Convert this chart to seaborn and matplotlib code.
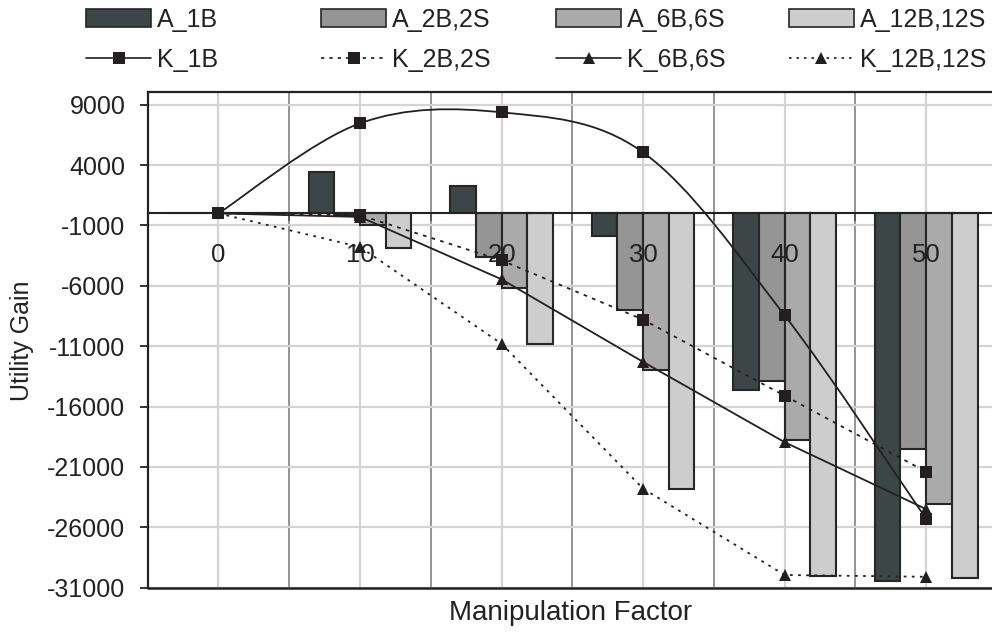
import numpy as np
import pandas as pd
import matplotlib
matplotlib.use("Agg")
import matplotlib.pyplot as plt
import seaborn as sns
from matplotlib.path import Path
from matplotlib.patches import PathPatch, Patch
from matplotlib.lines import Line2D

# ---------------- data ----------------
categories = ["0", "10", "20", "30", "40", "50"]
a_1b = [0, 3400, 2300, -1900, -14600, -30450]
a_2b = [0, -150, -3650, -8000, -13900, -19500]
a_6b = [0, -980, -6150, -12950, -18800, -24100]
a_12b = [0, -2830, -10850, -22800, -30000, -30170]
k_1b = [0, 7460, 8370, 5050, -8450, -25300]
k_2b = [0, -150, -3890, -8800, -15100, -21400]
k_6b = [0, -290, -5460, -12300, -18950, -24500]
k_12b = [0, -2780, -10800, -22800, -29950, -30100]
bar_names = ["A_1B", "A_2B,2S", "A_6B,6S", "A_12B,12S"]
line_names = ["K_1B", "K_2B,2S", "K_6B,6S", "K_12B,12S"]
y_ticks = [9000, 4000, -1000, -6000, -11000, -16000, -21000, -26000, -31000]

bar_colors = ["#3d4646", "#959595", "#aaaaaa", "#cdcdcd"]
line_color = "#231f20"
edge_color = "#262626"
text_color = "#222222"

sns.set_theme(style="white")
plt.rcParams['font.family'] = ['Liberation Sans', 'DejaVu Sans']

fig = plt.figure(figsize=(9.92, 6.41), dpi=100)
ax = fig.add_axes([0.1489, 0.0832, 0.8561, 0.7728])

# ---------------- bars ----------------
bar_df = pd.concat([
    pd.DataFrame({"Factor": categories, "Gain": vals, "Series": name})
    for name, vals in zip(bar_names, [a_1b, a_2b, a_6b, a_12b])
], ignore_index=True)

sns.barplot(data=bar_df, x="Factor", y="Gain", hue="Series", order=categories,
            hue_order=bar_names, palette=bar_colors, width=0.726, gap=0,
            saturation=1, edgecolor=edge_color, linewidth=1.5, errorbar=None,
            legend=False, zorder=2, ax=ax)

xs = np.arange(len(categories))

# ---------------- lines ----------------
# K_1B: smoothed curve (Excel-like bezier smoothing) through the points
pts = np.column_stack([xs, k_1b]).astype(float)
verts = [tuple(pts[0])]
codes = [Path.MOVETO]
n = len(pts)
for i in range(n - 1):
    p_prev = pts[i - 1] if i > 0 else pts[i]
    p_next2 = pts[i + 2] if i + 2 < n else pts[i + 1]
    c1 = pts[i] + (pts[i + 1] - p_prev) / 6.0
    c2 = pts[i + 1] - (p_next2 - pts[i]) / 6.0
    verts += [tuple(c1), tuple(c2), tuple(pts[i + 1])]
    codes += [Path.CURVE4] * 3
ax.add_patch(PathPatch(Path(verts, codes), facecolor="none", edgecolor=line_color,
                       linewidth=1.3, zorder=4))
sns.scatterplot(x=xs, y=k_1b, marker="s", s=80, color=line_color, linewidth=0,
                zorder=5, ax=ax, legend=False)

line_specs = [
    (k_2b, "s", (0, (2.0, 3.0))),
    (k_6b, "^", "-"),
    (k_12b, "^", (0, (1.5, 3.0))),
]
for vals, mk, ls in line_specs:
    sns.lineplot(x=xs, y=vals, ax=ax, color=line_color, linewidth=1.3,
                 linestyle=ls, marker=mk, markersize=9, markeredgewidth=0,
                 markerfacecolor=line_color, zorder=4, legend=False)

# ---------------- axes styling ----------------
ax.set_xlim(-0.5, 5.5)
ax.set_ylim(-31000, 10030)
ax.set_xticks(xs, labels=[""] * len(xs))
ax.set_xticks(xs[:-1] + 0.5, minor=True)
ax.set_yticks(y_ticks, labels=[str(v) for v in y_ticks])
ax.set_xlabel("")
ax.set_ylabel("")
ax.set_axisbelow(True)

# category labels next to the axis line (drawn above the bars)
for xi, lab in zip(xs, categories):
    ax.annotate(lab, xy=(xi, 0), xytext=(0, -30), textcoords="offset points",
                ha="center", va="center", fontsize=18.5, color=text_color,
                zorder=3, annotation_clip=False)

ax.grid(which="major", axis="x", color="#d4d4d4", linewidth=1.6)
ax.grid(which="minor", axis="x", color="#8c8c8c", linewidth=1.3)
ax.grid(which="major", axis="y", color="#d4d4d4", linewidth=1.6)

for s in ["left", "top", "right"]:
    ax.spines[s].set_color("#222222")
    ax.spines[s].set_linewidth(1.6)
ax.spines["bottom"].set_position(("data", 0))
ax.spines["bottom"].set_color("#222222")
ax.spines["bottom"].set_linewidth(1.5)
ax.spines["bottom"].set_zorder(3.5)
ax.axhline(-31000, color="#222222", linewidth=1.8, clip_on=False, zorder=6)

ax.tick_params(axis="x", which="major", length=0)
ax.tick_params(axis="x", which="minor", length=6, width=1.3, color="#555555",
               direction="out", bottom=True)
ax.tick_params(axis="y", which="major", length=6, width=1.3, color="#222222",
               direction="out", left=True, pad=10, labelsize=18, labelcolor=text_color)

fig.text(22 / 992, 1 - 341 / 641, "Utility Gain", rotation=90, ha="center",
         va="center", fontsize=18, color=text_color)
fig.text(571 / 992, 1 - 613 / 641, "Manipulation Factor", ha="center",
         va="center", fontsize=20, color=text_color)

# ---------------- legend (4 columns, 2 rows) ----------------
line_styles = ["-", (0, (2.0, 3.0)), "-", (0, (1.5, 3.0))]
line_markers = ["s", "s", "^", "^"]
col_x = [86, 321, 556, 788.5]
for j in range(4):
    handles = [
        Patch(facecolor=bar_colors[j], edgecolor=edge_color, linewidth=1.2),
        Line2D([0], [0], color=line_color, linewidth=1.2, linestyle=line_styles[j],
               marker=line_markers[j], markersize=9, markeredgewidth=0),
    ]
    fig.legend(handles=handles, labels=[bar_names[j], line_names[j]],
               loc="upper left", bbox_to_anchor=(col_x[j] / 992, 1 - 8 / 641),
               frameon=False, fontsize=18, handlelength=2.6,
               handleheight=0.72, handletextpad=0.25, labelspacing=0.65,
               borderpad=0, borderaxespad=0, labelcolor=text_color)

fig.savefig("out.png", dpi=100)
